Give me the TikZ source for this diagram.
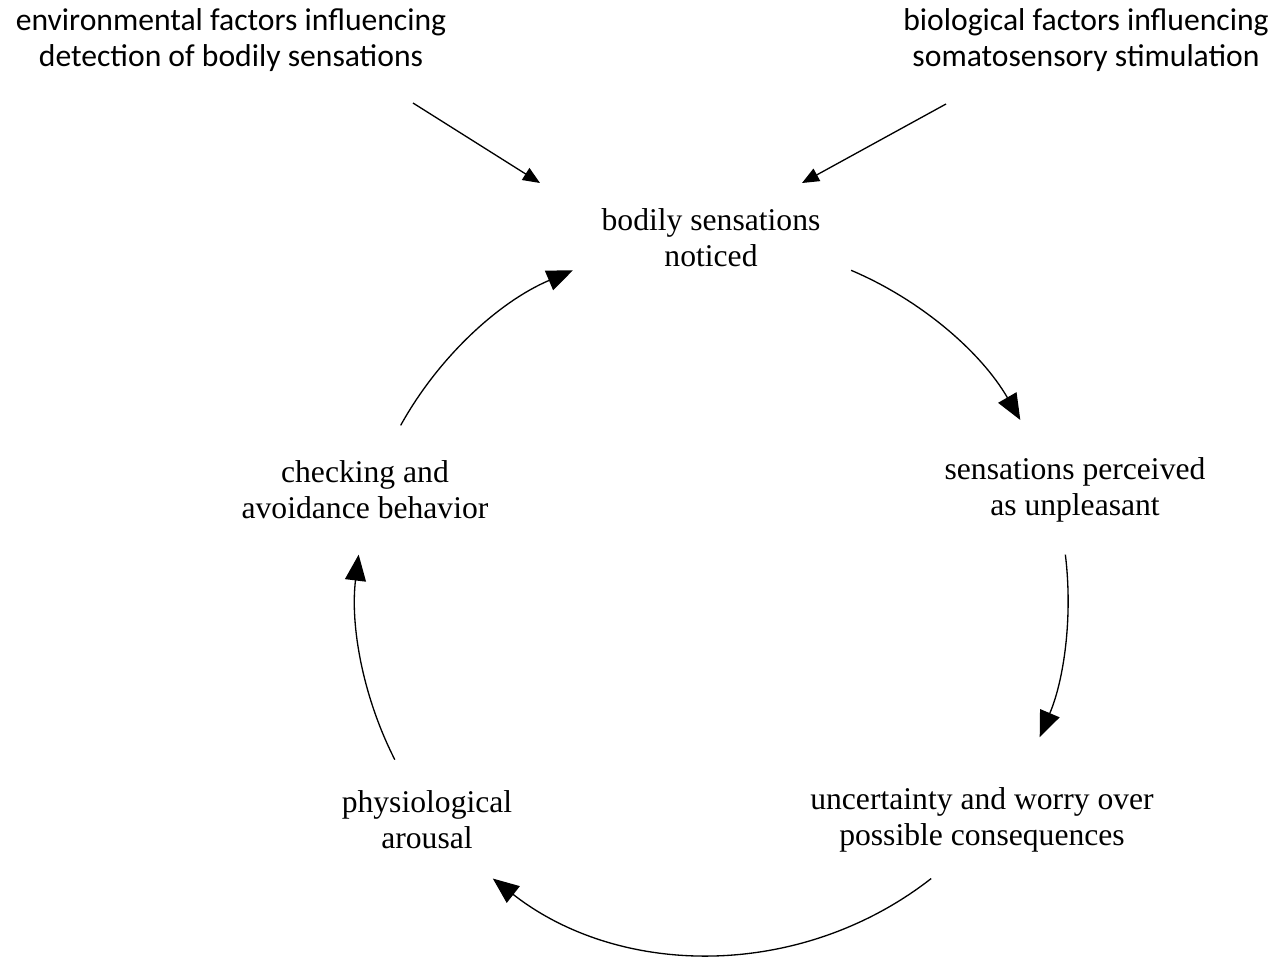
\documentclass[tikz,border=0pt]{standalone}
\usepackage{fontspec}
\setmainfont{Liberation Serif}
\newfontfamily\factorfont{Carlito}
\usepackage{tikz}
\usetikzlibrary{arrows.meta}
\tikzset{
  stage/.style={align=center, inner sep=0pt, font=\fontsize{18}{20.5}\selectfont},
  factor/.style={align=center, inner sep=0pt, font=\factorfont\fontsize{18}{20.5}\selectfont},
  cycleArrow/.style={line width=0.75pt, -{Triangle[length=0.52cm, width=0.42cm]}},
  feedArrow/.style={line width=0.75pt, -{Triangle[length=0.34cm, width=0.28cm]}}
}

\begin{document}
\begin{tikzpicture}[x=0.02cm, y=0.02cm]
  \useasboundingbox (0,0) rectangle (1282,-957);

  \node[factor] (env) at (231,-40) {environmental factors influencing\\detection of bodily sensations};
  \node[factor] (bio) at (1086,-40) {biological factors influencing\\somatosensory stimulation};

  \node[stage] (noticed) at (711,-238) {bodily sensations\\noticed};
  \node[stage] (unpleasant) at (1075,-490) {sensations perceived\\as unpleasant};
  \node[stage] (worry) at (982,-820) {uncertainty and worry over\\possible consequences};
  \node[stage] (arousal) at (427,-820) {physiological\\arousal};
  \node[stage] (checking) at (365,-490) {checking and\\avoidance behavior};

  \coordinate (hub) at (712,-598);
  \coordinate (envEnd) at (413,-103);
  \coordinate (envTip) at (540,-183);
  \coordinate (bioEnd) at (946,-104);
  \coordinate (bioTip) at (802,-183);

  \draw[feedArrow] (envEnd) -- (envTip);
  \draw[feedArrow] (bioEnd) -- (bioTip);

  \draw[cycleArrow] (hub) ++(67:356) arc[start angle=67, end angle=30, radius=356];
  \draw[cycleArrow] (hub) ++(7:356) arc[start angle=7, end angle=-23, radius=356];
  \draw[cycleArrow] (hub) ++(-52:356) arc[start angle=-52, end angle=-128, radius=356];
  \draw[cycleArrow] (hub) ++(207:356) arc[start angle=207, end angle=173, radius=356];
  \draw[cycleArrow] (hub) ++(151:356) arc[start angle=151, end angle=113, radius=356];
\end{tikzpicture}
\end{document}
